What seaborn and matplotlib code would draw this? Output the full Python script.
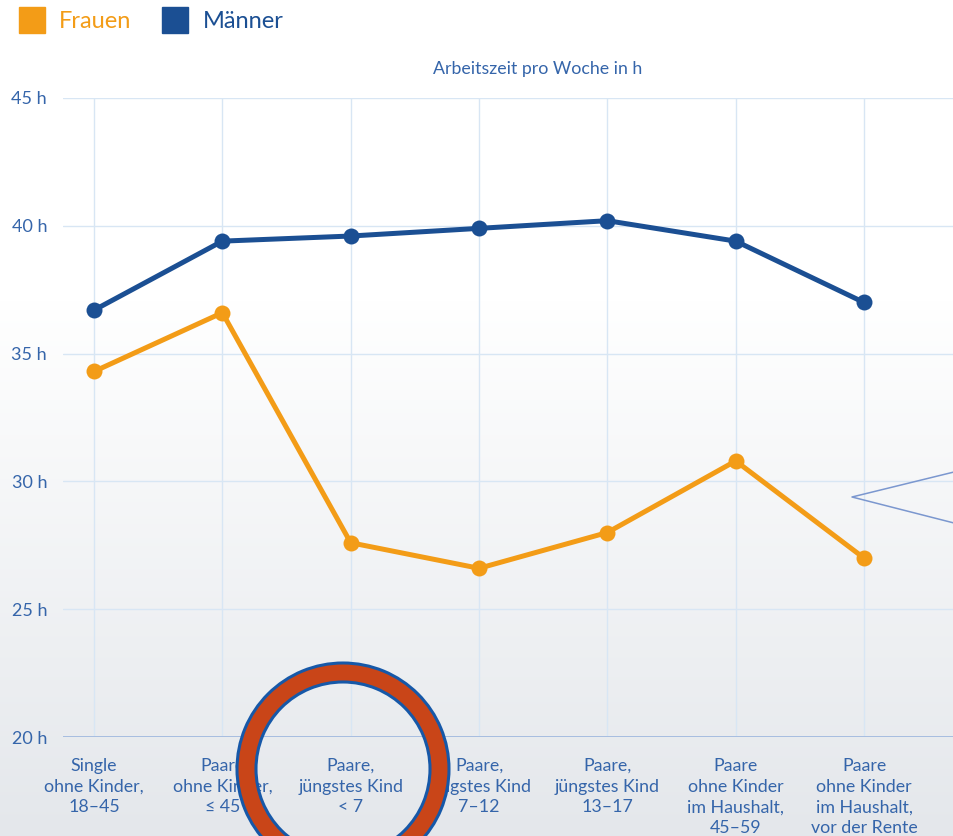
import matplotlib.pyplot as plt
import numpy as np
import pandas as pd
import seaborn as sns
from matplotlib.lines import Line2D
from matplotlib.patches import Wedge

categories = [
    "Single\nohne Kinder,\n18–45",
    "Paare\nohne Kinder,\n≤ 45",
    "Paare,\njüngstes Kind\n< 7",
    "Paare,\njüngstes Kind\n7–12",
    "Paare,\njüngstes Kind\n13–17",
    "Paare\nohne Kinder\nim Haushalt,\n45–59",
    "Paare\nohne Kinder\nim Haushalt,\nvor der Rente",
]
frauen = [34.3, 36.6, 27.6, 26.6, 28.0, 30.8, 27.0]
maenner = [36.7, 39.4, 39.6, 39.9, 40.2, 39.4, 37.0]
y_ticks = [20, 25, 30, 35, 40, 45]
y_labels = ["20 h", "25 h", "30 h", "35 h", "40 h", "45 h"]

ORANGE = "#f39c17"
NAVY = "#1b4f93"
TEXT = "#3565aa"
GRID = "#d8e6f4"

sns.set_theme(style="white")
plt.rcParams["font.family"] = ["Lato", "DejaVu Sans"]

W, H = 954, 836
fig = plt.figure(figsize=(W / 100, H / 100), dpi=100)

# background gradient (white at top, light grey at bottom)
bg = fig.add_axes([0, 0, 1, 1], zorder=0)
rows = np.linspace(0, 1, H)
frac = np.clip((rows - 0.36) / 0.64, 0, 1)
top = np.array([1.0, 1.0, 1.0])
bottom = np.array([0.894, 0.906, 0.922])
img = top[None, :] * (1 - frac[:, None]) + bottom[None, :] * frac[:, None]
bg.imshow(img[:, None, :].repeat(4, axis=1), aspect="auto", extent=[0, 1, 0, 1])
bg.set_axis_off()

# main chart
left, right = 63 / W, 1.0
bottom_px, top_px = 737, 98
ax = fig.add_axes(
    [left, 1 - bottom_px / H, right - left, (bottom_px - top_px) / H], zorder=1
)
ax.patch.set_alpha(0)

df = pd.DataFrame(
    {
        "pos": list(range(len(categories))) * 2,
        "stunden": frauen + maenner,
        "gruppe": ["Frauen"] * len(frauen) + ["Männer"] * len(maenner),
    }
)
sns.lineplot(
    data=df,
    x="pos",
    y="stunden",
    hue="gruppe",
    palette={"Frauen": ORANGE, "Männer": NAVY},
    marker="o",
    markersize=11.5,
    markeredgewidth=0,
    linewidth=3.6,
    legend=False,
    ax=ax,
    zorder=3,
)

ax.set_xlim(-0.2416, 6.701)
ax.set_ylim(20, 45)
ax.set_xticks(range(len(categories)))
ax.set_xticklabels(categories, linespacing=1.36)
ax.set_yticks(y_ticks)
ax.set_yticklabels(y_labels)
ax.tick_params(axis="x", length=6, width=1, color=GRID, colors=TEXT, labelsize=12.8,
               pad=9)
ax.tick_params(axis="y", length=0, colors=TEXT, labelsize=13, pad=11.5)
ax.set_xlabel("")
ax.set_ylabel("")
for s in ax.spines.values():
    s.set_visible(False)
ax.grid(True, color=GRID, linewidth=1, zorder=0)
ax.axhline(20, color="#a7bde0", linewidth=1.4, zorder=1)
fig.text(538 / W, 1 - 69 / H, "Arbeitszeit pro Woche in h", color=TEXT,
         fontsize=12.8, ha="center", va="center")

# legend
handles = [
    Line2D([], [], marker="s", linestyle="", markersize=18.5, color=ORANGE),
    Line2D([], [], marker="s", linestyle="", markersize=18.5, color=NAVY),
]
fig.legend(
    handles,
    ["Frauen", "Männer"],
    loc="upper left",
    bbox_to_anchor=(0.004, 1.004),
    ncol=2,
    frameon=False,
    fontsize=17,
    labelcolor=[ORANGE, NAVY],
    handletextpad=0.55,
    columnspacing=1.25,
    borderaxespad=0.2,
    handlelength=1.2,
)

# overlay in pixel coordinates: ring and pointer
ov = fig.add_axes([0, 0, 1, 1], zorder=5)
ov.set_xlim(0, W)
ov.set_ylim(H, 0)
ov.set_axis_off()
ov.patch.set_alpha(0)
ov.add_patch(Wedge((343, 769), 106, 0, 360, width=19, facecolor="#c94518",
                   edgecolor="#1658a8", linewidth=2.2))
ov.plot([954, 852, 954], [472, 497, 523], color="#7b97cf", linewidth=1.1)

fig.savefig("out.png", dpi=100)
